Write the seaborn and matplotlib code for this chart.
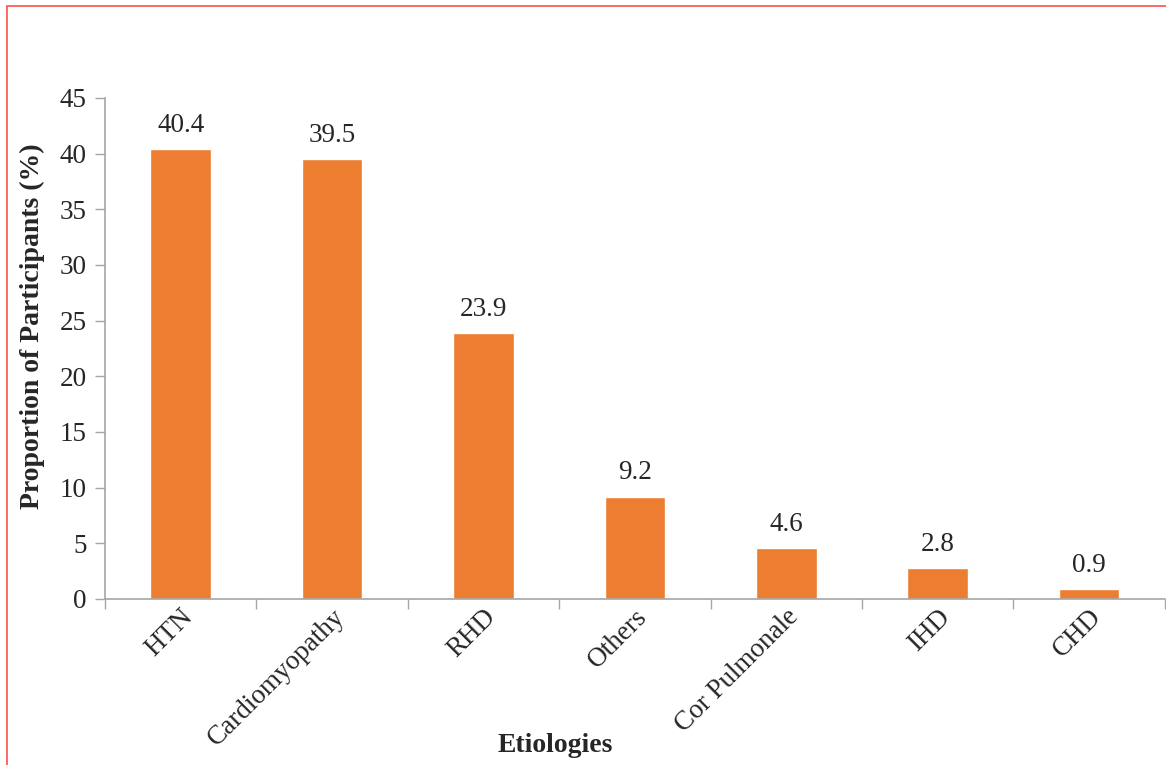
import pandas as pd
import numpy as np
import seaborn as sns
import matplotlib.pyplot as plt
from matplotlib.patches import Rectangle

# 病因 / 占比
etiologies = ['HTN', 'Cardiomyopathy', 'RHD', 'Others', 'Cor Pulmonale', 'IHD', 'CHD']
proportion = [40.4, 39.5, 23.9, 9.2, 4.6, 2.8, 0.9]

df = pd.DataFrame({'Etiologies': etiologies, 'Proportion': proportion})

sns.set_style('white')
plt.rcParams['font.family'] = ['Liberation Serif', 'DejaVu Serif']

fig = plt.figure(figsize=(11.66, 7.65), dpi=100)
ax = fig.add_axes([0.090, 0.217, 0.909, 0.655])

sns.barplot(data=df, x='Etiologies', y='Proportion', color='#ED7D31',
            width=0.4, saturation=1, ax=ax)
ax.bar_label(ax.containers[0], fmt='%.1f', padding=8, fontsize=19.5)

ax.set_ylim(0, 45)
ax.set_xlim(-0.5, len(etiologies) - 0.5)
ax.set_yticks(np.arange(0, 46, 5))
ax.tick_params(axis='y', labelsize=19.5, length=7, width=1, color='#a6a6a6',
               direction='out', left=True, pad=6)

# 分类边界处的刻度
ax.set_xticks(np.arange(-0.5, len(etiologies), 1), minor=True)
ax.tick_params(axis='x', which='minor', length=7, width=1, color='#a6a6a6',
               direction='out', bottom=True)
ax.tick_params(axis='x', which='major', length=0, labelsize=19.5, pad=4)
plt.setp(ax.get_xticklabels(), rotation=45, ha='right', rotation_mode='anchor')

for s in ['top', 'right']:
    ax.spines[s].set_visible(False)
for s in ['left', 'bottom']:
    ax.spines[s].set_color('#a6a6a6')
    ax.spines[s].set_linewidth(1.2)

ax.set_xlabel('Etiologies', fontsize=20, fontweight='bold')
ax.set_ylabel('Proportion of Participants (%)', fontsize=20, fontweight='bold')
ax.xaxis.set_label_coords(0.425, -0.268)
ax.yaxis.set_label_coords(-0.057, 0.545)

fig.patches.append(Rectangle((7 / 1166, -0.01), 1.0, 1 - 6 / 765 + 0.01,
                             transform=fig.transFigure, fill=False,
                             edgecolor='#ff4d4d', linewidth=1.2))

fig.savefig('out.png', dpi=100)
